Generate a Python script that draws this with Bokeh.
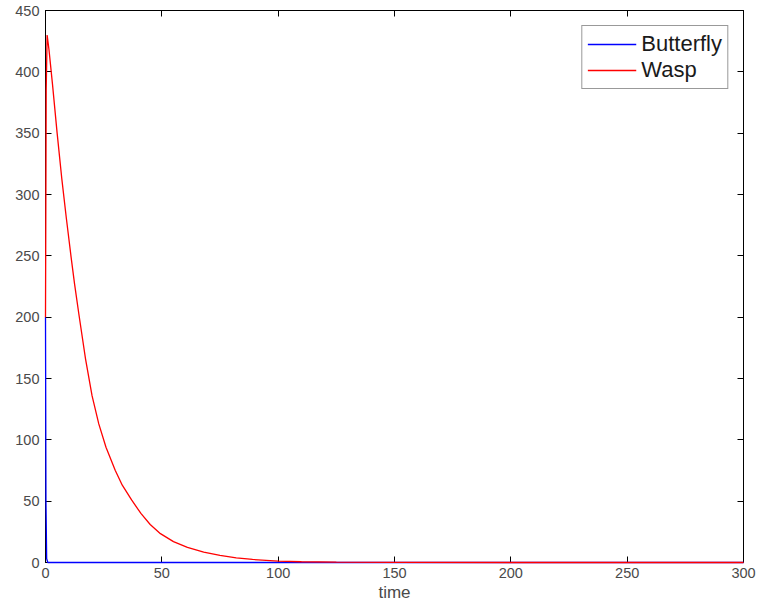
from bokeh.plotting import figure
from bokeh.models import (LinearAxis, Range1d, FixedTicker, Legend, LegendItem,
                          CustomLabelingPolicy)
from bokeh.embed import file_html
from bokeh.resources import INLINE

# Data
time = [0, 0.3, 0.7, 1.5, 3, 5, 7, 9, 11, 12.5, 14.3, 17.2, 20, 22.9, 26, 30,
        33, 37, 41, 45, 49.4, 55, 61, 68, 75, 82, 89, 100, 110, 125, 150, 200,
        250, 300]
wasp = [200, 385, 430, 418, 390, 350, 313, 280, 249, 227, 203, 166, 136, 113,
        94, 75, 63, 51, 40, 31, 23.5, 17, 12.3, 8.4, 5.8, 3.8, 2.5, 1.1, 0.6,
        0.25, 0.05, 0, 0, 0]
butterfly_time = [0, 0.2, 0.5, 1, 300]
butterfly = [200, 50, 3, 0, 0]

x_ticks = [0, 50, 100, 150, 200, 250, 300]
y_ticks = [0, 50, 100, 150, 200, 250, 300, 350, 400, 450]

FONT = "Liberation Sans"
TXT = "#4a4a4a"

p = figure(width=759, height=613, output_backend="svg", toolbar_location=None,
           x_range=Range1d(0, 300), y_range=Range1d(0, 450),
           min_border_left=45, min_border_right=16, min_border_top=10,
           min_border_bottom=51)
p.background_fill_color = "white"
p.border_fill_color = "white"
p.outline_line_color = "black"
p.grid.visible = False

for ax in p.xaxis + p.yaxis:
    ax.major_tick_in = 6
    ax.major_tick_out = 0
    ax.minor_tick_line_color = None
    ax.axis_line_color = "black"
    ax.major_tick_line_color = "black"
    ax.major_label_text_font = FONT
    ax.major_label_text_font_size = "14.5px"
    ax.major_label_text_color = TXT

p.xaxis.ticker = FixedTicker(ticks=x_ticks)
p.yaxis.ticker = FixedTicker(ticks=y_ticks)
p.xaxis.axis_label = "time"
p.xaxis.axis_label_text_font = FONT
p.xaxis.axis_label_text_font_size = "17px"
p.xaxis.axis_label_text_font_style = "normal"
p.xaxis.axis_label_text_color = TXT
p.xaxis.axis_label_standoff = 2
p.xaxis.major_label_standoff = 5
p.yaxis.major_label_standoff = 6

hide = CustomLabelingPolicy(code="for (const i of indices) { indices.unset(i) }\nreturn indices")
top = LinearAxis(ticker=FixedTicker(ticks=x_ticks), major_label_text_font_size="1px",
                 major_tick_in=6, major_tick_out=0, minor_tick_line_color=None,
                 major_label_standoff=0, major_label_policy=hide)
right = LinearAxis(ticker=FixedTicker(ticks=y_ticks), major_label_text_font_size="1px",
                   major_tick_in=6, major_tick_out=0, minor_tick_line_color=None,
                   major_label_standoff=0, major_label_policy=hide)
p.add_layout(top, "above")
p.add_layout(right, "right")

rb = p.line(butterfly_time, butterfly, line_color="#0000ff", line_width=1.3,
            level="overlay")
rw = p.line(time, wasp, line_color="#ff0000", line_width=1.3, level="overlay")

legend = Legend(items=[LegendItem(label="Butterfly", renderers=[rb]),
                       LegendItem(label="Wasp", renderers=[rw])],
                location="top_right")
legend.label_text_font = FONT
legend.label_text_font_size = "22px"
legend.label_text_color = "#1a1a1a"
legend.border_line_color = "#333333"
legend.border_line_width = 1
legend.glyph_width = 49
legend.glyph_height = 26
legend.label_height = 26
legend.spacing = 0
legend.padding = 5
legend.margin = 15
legend.label_standoff = 5
p.add_layout(legend)

open("out.html", "w").write(file_html(p, INLINE))
